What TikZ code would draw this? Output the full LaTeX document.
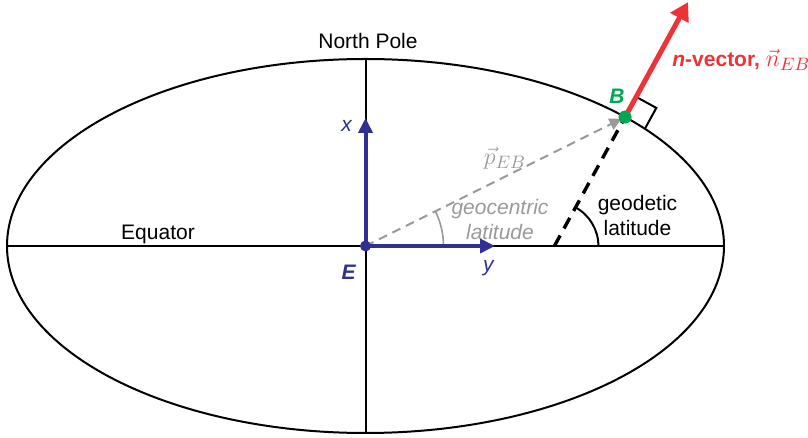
\documentclass[tikz,border=0pt]{standalone}
\usepackage{fontspec}
\setsansfont{Liberation Sans}
\usetikzlibrary{arrows.meta,calc,positioning}
\definecolor{axisblue}{HTML}{2E3192}
\definecolor{nred}{HTML}{EE3237}
\definecolor{bgreen}{HTML}{00A651}
\definecolor{pgray}{HTML}{9A9A9A}

\begin{document}
\begin{tikzpicture}[x=0.5pt,y=0.5pt,>=Latex,font=\sffamily\fontsize{10.5}{12.5}\selectfont,
thin line/.style={line width=1pt},
axis/.style={draw=axisblue,line width=2pt,-{Triangle[length=7.5pt,width=7pt]}},
blbl/.style={text=axisblue,inner sep=0pt},
glbl/.style={text=pgray,inner sep=0pt,align=center},
vecfont/.style={font=\fontsize{13}{15}\selectfont}]
\useasboundingbox (-365.5,-192) rectangle (442.5,246);
% ellipse and its axes
\coordinate (E) at (0,0);
\coordinate (N) at (0,187);\coordinate (S) at (0,-187);
\coordinate (W) at (-358.5,0);\coordinate (Q) at (358.5,0);
\coordinate (B) at (43.6:358.5 and 187);
\coordinate (G) at (188.9,0);
\coordinate (R) at ($(B)+(61.3:131)$);
\coordinate (X) at (0,128);\coordinate (Y) at (129.5,0);
\draw[thin line] (E) ellipse [x radius=358.5,y radius=187];
\draw[thin line] (W) -- (Q) (N) -- (S);
% latitudes
\draw[pgray,line width=0.8pt] (78,0) arc[start angle=0,end angle=26.4,radius=78];
\draw[pgray,line width=1pt,dash pattern=on 4.5pt off 3pt,-{Triangle[length=6pt,width=6pt]},shorten >=2] (E) -- (B);
\draw[line width=1.7pt,dash pattern=on 6pt off 4pt] (G) -- (B);
\draw[thin line] ($(G)+(44,0)$) arc[start angle=0,end angle=61.3,radius=44];
\draw[thin line] ($(B)+(61.3:23)$) -- ++(-28.7:23) -- ($(B)+(-28.7:23)$);
% vectors
\draw[nred,line width=2.5pt,-{Triangle[length=9pt,width=10pt]}] (B) -- (R);
\draw[axis] (E) -- (X);
\draw[axis] (E) -- (Y);
\fill[axisblue] (E) circle[radius=5.5];
\fill[bgreen] (B) circle[radius=6.5];
% labels
\node (npole) at (2.5,205) {North Pole};
\node (equator) at (-207.5,12) {Equator};
\node[blbl] (xlbl) at (-18.5,120) {\textit{x}};
\node[blbl] (elbl) at (-16.5,-26) {\textbf{\textit{E}}};
\node[blbl] (ylbl) at (123.5,-22) {\textit{y}};
\node[text=bgreen,inner sep=0pt] (blbl) at (251.5,150) {\textbf{\textit{B}}};
\node[glbl,vecfont] (plbl) at (139.5,88) {$\vec{p}_{EB}$};
\node[glbl] (gclbl) at (134.5,26) {\textit{geocentric}\\\textit{latitude}};
\node[inner sep=0pt,align=center] (gdlbl) at (272,31) {geodetic\\latitude};
\node[text=nred,anchor=west,inner sep=0pt] (nlbl) at (306.5,186) {\textbf{\textit{n}-vector,} {\fontsize{13}{15}\selectfont$\vec{n}_{EB}$}};
\end{tikzpicture}
\end{document}
